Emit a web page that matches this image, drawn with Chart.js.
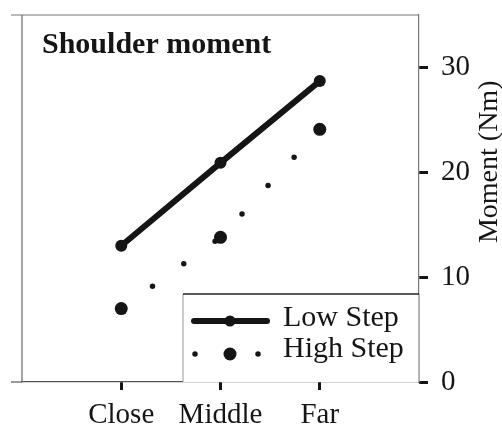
<!DOCTYPE html>
<html>
<head>
<meta charset="utf-8">
<script src="https://cdn.jsdelivr.net/npm/chart.js@4.4.1/dist/chart.umd.min.js"></script>
<style>
  html, body { margin: 0; padding: 0; background: #fff; }
  #wrap { width: 502px; height: 428px; }
</style>
</head>
<body>
<div id="wrap"><canvas id="momentChart" width="502" height="428"></canvas></div>
<script>
// step distance categories and shoulder moment (Nm)
const categories = ['Close', 'Middle', 'Far'];
const lowStep = [13.0, 20.9, 28.7];
const highStep = [7.0, 13.8, 24.1];
const yTicks = [0, 10, 20, 30];

const serif = "'Liberation Serif', 'Times New Roman', serif";
const ink = '#151515';

function toPoints(values) {
    return values.map((v, i) => ({ x: i, y: v }));
}

// frame lines, panel title, rotated axis title and the boxed legend
const decorations = {
    id: 'decorations',
    beforeDatasetsDraw(chart) {
        const { ctx, chartArea: a } = chart;
        ctx.save();
        ctx.lineWidth = 1.2;
        ctx.strokeStyle = '#777';
        ctx.beginPath();
        ctx.moveTo(a.left - 11, a.top);
        ctx.lineTo(a.right, a.top);
        ctx.stroke();
        ctx.strokeStyle = '#666';
        ctx.beginPath();
        ctx.moveTo(a.left, a.top);
        ctx.lineTo(a.left, a.bottom);
        ctx.stroke();
        ctx.strokeStyle = '#555';
        ctx.beginPath();
        ctx.moveTo(a.left - 11, a.bottom);
        ctx.lineTo(a.left, a.bottom);
        ctx.stroke();
        ctx.restore();
    },
    afterDraw(chart) {
        const { ctx, chartArea: a } = chart;
        ctx.save();

        // panel title
        ctx.fillStyle = ink;
        ctx.font = 'bold 30px ' + serif;
        ctx.textAlign = 'left';
        ctx.textBaseline = 'alphabetic';
        ctx.fillText('Shoulder moment', a.left + 20, a.top + 38);

        // y axis title, reading bottom to top
        ctx.save();
        ctx.translate(chart.width - 5, a.top + a.height * 0.4);
        ctx.rotate(-Math.PI / 2);
        ctx.font = '28px ' + serif;
        ctx.textAlign = 'center';
        ctx.fillText('Moment (Nm)', 0, 0);
        ctx.restore();

        // legend box
        const bw = 236, bh = 88;
        const bx = a.right - bw, by = a.bottom - bh;
        ctx.fillStyle = '#fff';
        ctx.fillRect(bx, by, bw, bh);
        ctx.lineWidth = 1;
        ctx.strokeStyle = '#999';
        ctx.beginPath();
        ctx.moveTo(bx, a.bottom);
        ctx.lineTo(bx, by);
        ctx.stroke();
        ctx.strokeStyle = '#777';
        ctx.beginPath();
        ctx.moveTo(a.right, by);
        ctx.lineTo(a.right, a.bottom);
        ctx.stroke();
        ctx.lineWidth = 1.6;
        ctx.strokeStyle = '#222';
        ctx.beginPath();
        ctx.moveTo(bx, by);
        ctx.lineTo(a.right, by);
        ctx.stroke();

        const low = chart.data.datasets[0];
        const high = chart.data.datasets[1];

        // Low Step sample
        const y1 = by + 27;
        ctx.strokeStyle = low.borderColor;
        ctx.lineWidth = low.borderWidth;
        ctx.lineCap = 'round';
        ctx.beginPath();
        ctx.moveTo(bx + 11, y1);
        ctx.lineTo(bx + 84, y1);
        ctx.stroke();
        ctx.fillStyle = low.pointBackgroundColor;
        ctx.beginPath();
        ctx.arc(bx + 47, y1, low.pointRadius - 0.5, 0, Math.PI * 2);
        ctx.fill();

        // High Step sample
        const y2 = by + 60;
        ctx.fillStyle = high.pointBackgroundColor;
        [[bx + 12, high.borderWidth / 2], [bx + 47, high.pointRadius], [bx + 75, high.borderWidth / 2]].forEach(([x, r]) => {
            ctx.beginPath();
            ctx.arc(x, y2, r, 0, Math.PI * 2);
            ctx.fill();
        });

        ctx.fillStyle = ink;
        ctx.font = '30px ' + serif;
        ctx.textAlign = 'left';
        ctx.textBaseline = 'alphabetic';
        ctx.fillText(low.label, bx + 100, by + 32);
        ctx.fillText(high.label, bx + 100, by + 63);

        ctx.restore();
    }
};

new Chart(document.getElementById('momentChart'), {
    type: 'line',
    data: {
        datasets: [
            {
                label: 'Low Step',
                data: toPoints(lowStep),
                borderColor: ink,
                borderWidth: 6,
                pointRadius: 6,
                pointBackgroundColor: ink,
                pointBorderWidth: 0
            },
            {
                label: 'High Step',
                data: toPoints(highStep),
                borderColor: ink,
                borderWidth: 5.5,
                borderDash: [0, 38.5],
                borderCapStyle: 'round',
                pointRadius: 6.5,
                pointBackgroundColor: ink,
                pointBorderWidth: 0
            }
        ]
    },
    options: {
        responsive: false,
        animation: false,
        devicePixelRatio: 1,
        layout: { padding: { left: 22, top: 15, right: 0, bottom: 0 } },
        plugins: {
            legend: { display: false },
            tooltip: { enabled: false }
        },
        scales: {
            x: {
                type: 'linear',
                position: 'bottom',
                min: -1,
                max: 3,
                afterBuildTicks: scale => {
                    scale.ticks = categories.map((c, i) => ({ value: i }));
                },
                afterFit: scale => {
                    scale.height = 46;
                    scale.paddingLeft = 0;
                    scale.paddingRight = 0;
                },
                grid: {
                    drawOnChartArea: false,
                    drawTicks: true,
                    tickLength: 8,
                    tickWidth: 3,
                    tickColor: ink
                },
                border: { display: true, color: '#555', width: 1.2 },
                ticks: {
                    padding: 8,
                    color: ink,
                    font: { family: serif, size: 29 },
                    callback: v => categories[v]
                }
            },
            y: {
                position: 'right',
                min: 0,
                max: 35,
                afterBuildTicks: scale => {
                    scale.ticks = yTicks.map(v => ({ value: v }));
                },
                afterFit: scale => {
                    scale.width = 83;
                    scale.paddingTop = 0;
                    scale.paddingBottom = 0;
                },
                grid: {
                    drawOnChartArea: false,
                    drawTicks: true,
                    tickLength: 9,
                    tickWidth: 3,
                    tickColor: ink
                },
                border: { display: true, color: '#777', width: 1.2 },
                ticks: {
                    padding: 13,
                    color: ink,
                    font: { family: serif, size: 29 }
                }
            }
        }
    },
    plugins: [decorations]
});
</script>
</body>
</html>
